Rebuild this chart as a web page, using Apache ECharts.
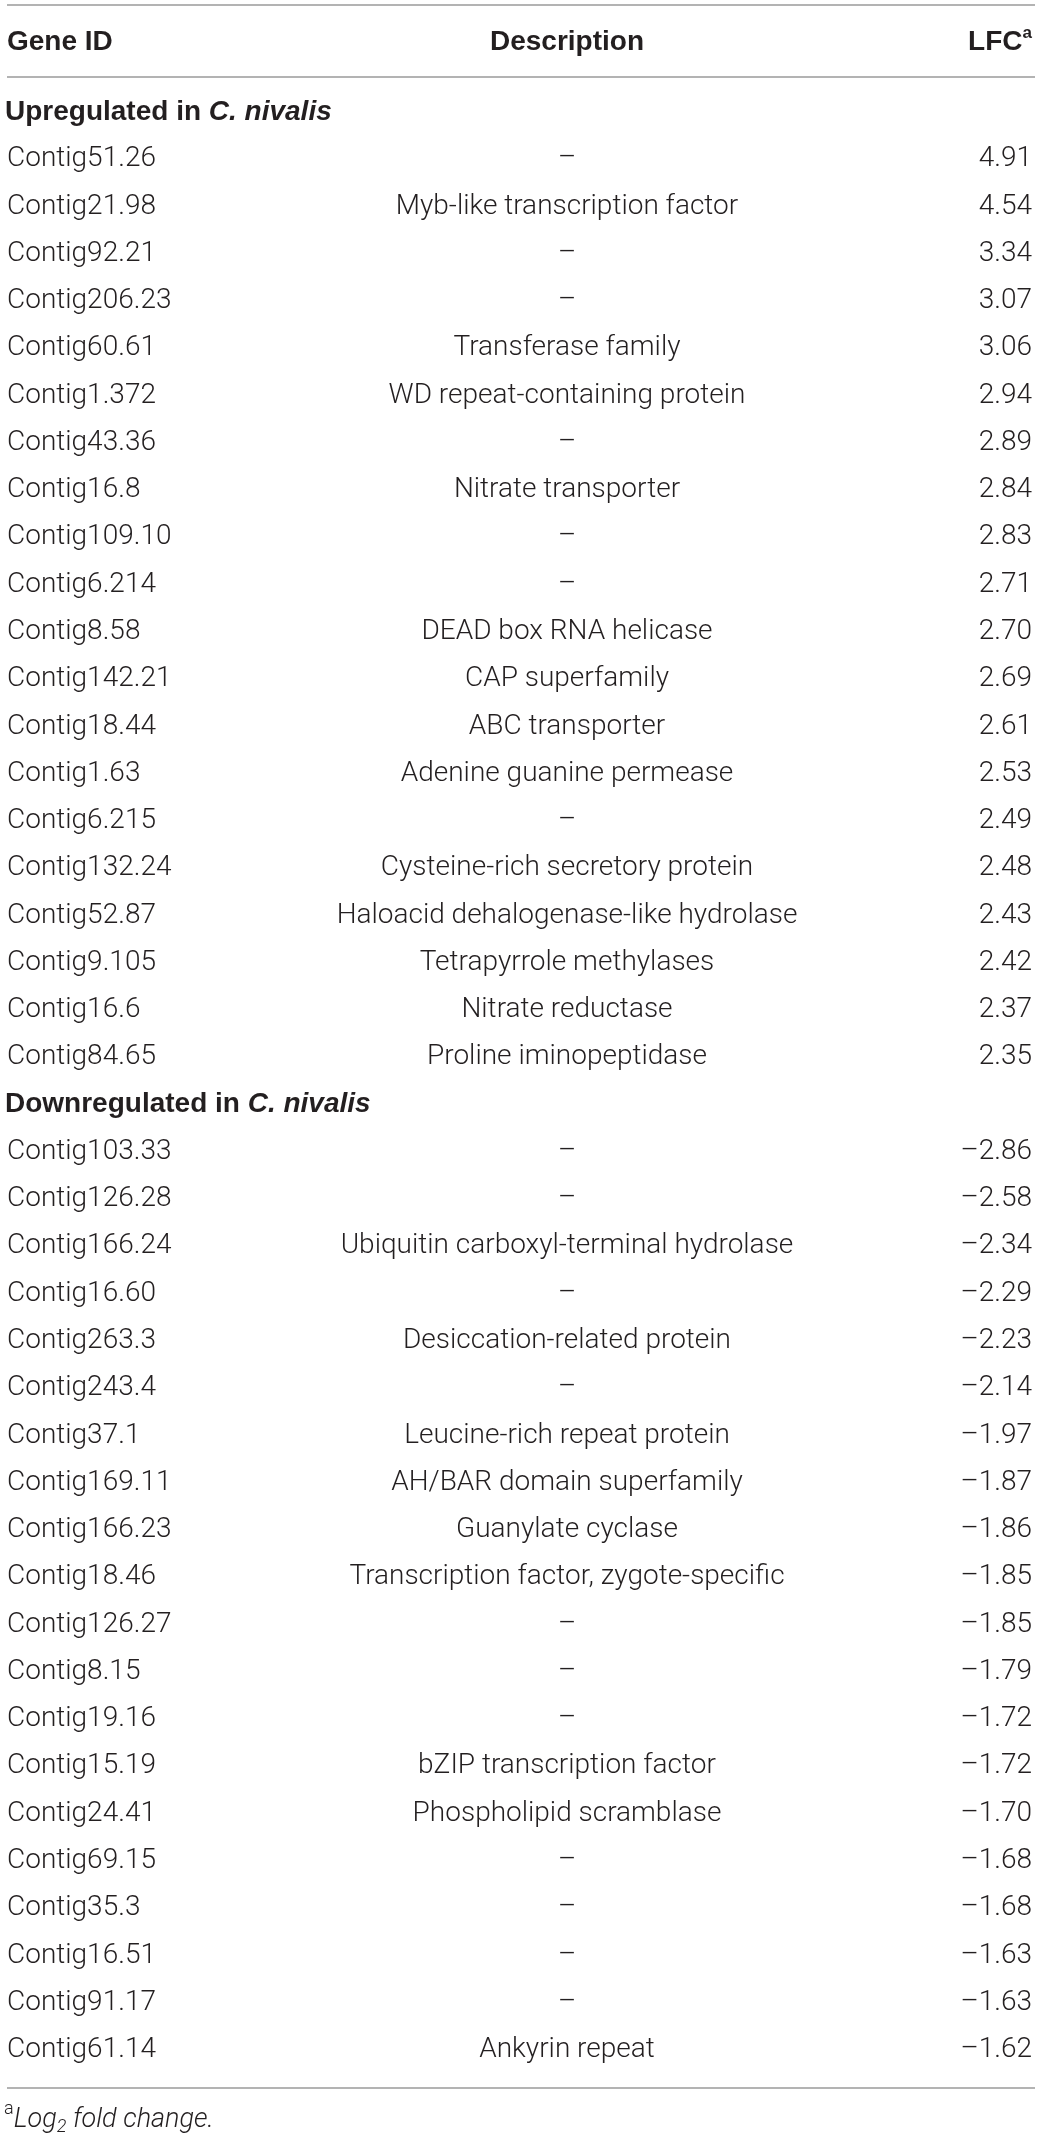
<!DOCTYPE html>
<html>
<head>
<meta charset="utf-8">
<script src="https://cdn.jsdelivr.net/npm/echarts@6/dist/echarts.min.js"></script>
<style>
  html, body { margin: 0; padding: 0; background: #fff; }
  #main { width: 1041px; height: 2138px; }
</style>
</head>
<body>
<div id="main"></div>
<script>
// column headers and group titles
const headers = ['Gene ID', 'Description', 'LFC'];
const upTitle = ['Upregulated in ', 'C. nivalis'];
const downTitle = ['Downregulated in ', 'C. nivalis'];
const footnote = ['a', 'Log', '2', ' fold change.'];

// upregulated genes
const upIds = ['Contig51.26', 'Contig21.98', 'Contig92.21', 'Contig206.23', 'Contig60.61',
  'Contig1.372', 'Contig43.36', 'Contig16.8', 'Contig109.10', 'Contig6.214',
  'Contig8.58', 'Contig142.21', 'Contig18.44', 'Contig1.63', 'Contig6.215',
  'Contig132.24', 'Contig52.87', 'Contig9.105', 'Contig16.6', 'Contig84.65'];
const upDesc = ['–', 'Myb-like transcription factor', '–', '–', 'Transferase family',
  'WD repeat-containing protein', '–', 'Nitrate transporter', '–', '–',
  'DEAD box RNA helicase', 'CAP superfamily', 'ABC transporter', 'Adenine guanine permease', '–',
  'Cysteine-rich secretory protein', 'Haloacid dehalogenase-like hydrolase', 'Tetrapyrrole methylases',
  'Nitrate reductase', 'Proline iminopeptidase'];
const upLfc = [4.91, 4.54, 3.34, 3.07, 3.06, 2.94, 2.89, 2.84, 2.83, 2.71,
  2.70, 2.69, 2.61, 2.53, 2.49, 2.48, 2.43, 2.42, 2.37, 2.35];

// downregulated genes
const downIds = ['Contig103.33', 'Contig126.28', 'Contig166.24', 'Contig16.60', 'Contig263.3',
  'Contig243.4', 'Contig37.1', 'Contig169.11', 'Contig166.23', 'Contig18.46',
  'Contig126.27', 'Contig8.15', 'Contig19.16', 'Contig15.19', 'Contig24.41',
  'Contig69.15', 'Contig35.3', 'Contig16.51', 'Contig91.17', 'Contig61.14'];
const downDesc = ['–', '–', 'Ubiquitin carboxyl-terminal hydrolase', '–', 'Desiccation-related protein',
  '–', 'Leucine-rich repeat protein', 'AH/BAR domain superfamily', 'Guanylate cyclase',
  'Transcription factor, zygote-specific', '–', '–', '–', 'bZIP transcription factor',
  'Phospholipid scramblase', '–', '–', '–', '–', 'Ankyrin repeat'];
const downLfc = [-2.86, -2.58, -2.34, -2.29, -2.23, -2.14, -1.97, -1.87, -1.86, -1.85,
  -1.85, -1.79, -1.72, -1.72, -1.70, -1.68, -1.68, -1.63, -1.63, -1.62];

// layout (pixels)
const W = 1041, H = 2138;
const ROW0 = 112, PITCH = 47.27;
const COL_ID = 7, COL_DESC = 567, COL_LFC = 1032;
const RULE_L = 7, RULE_R = 1035;
const HEAD_Y = 42, NOTE_Y = 2120;
const RULES_Y = [5, 77, 2088];
const INK = '#231f20';
const BODY = 'Roboto';
const BOLD = 'Liberation Sans';

const rowOf = (px) => (px - ROW0) / PITCH;
const fmt = (v) => v.toFixed(2).replace('-', '–');

// one list of table items, rows counted from the first group title
const items = [];
RULES_Y.forEach((px) => items.push({ kind: 'rule', row: rowOf(px) }));
items.push({ kind: 'header', row: rowOf(HEAD_Y) });
let r = 0;
items.push({ kind: 'section', row: r++, title: upTitle });
upIds.forEach((id, i) => items.push({ kind: 'gene', row: r++, id, desc: upDesc[i], lfc: upLfc[i] }));
items.push({ kind: 'section', row: r++, title: downTitle });
downIds.forEach((id, i) => items.push({ kind: 'gene', row: r++, id, desc: downDesc[i], lfc: downLfc[i] }));
items.push({ kind: 'note', row: rowOf(NOTE_Y) });

function txt(x, y, text, align, extra) {
  return {
    type: 'text', x, y,
    style: Object.assign({
      text, fill: INK, fontFamily: BODY, fontSize: 28, fontWeight: 300,
      align, verticalAlign: 'middle'
    }, extra || {})
  };
}

function renderItem(params, api) {
  const it = items[params.dataIndex];
  const y = api.coord([0, it.row])[1];
  const xs = (v) => api.coord([v, it.row])[0];
  const boldStyle = { fontFamily: BOLD, fontWeight: 'bold', fontSize: 28 };
  if (it.kind === 'rule') {
    return {
      type: 'line',
      shape: { x1: xs(RULE_L), y1: y, x2: xs(RULE_R), y2: y },
      style: { stroke: '#9a9a9a', lineWidth: 1.6 }
    };
  }
  if (it.kind === 'header') {
    return {
      type: 'group',
      children: [
        txt(xs(COL_ID), y, headers[0], 'left', boldStyle),
        txt(xs(COL_DESC), y, headers[1], 'center', boldStyle),
        txt(xs(COL_LFC), y, headers[2] + '{sup|a}', 'right', Object.assign({
          lineHeight: 34,
          rich: { sup: { fontFamily: BOLD, fontWeight: 'bold', fontSize: 17, lineHeight: 18, verticalAlign: 'top', fill: INK } }
        }, boldStyle))
      ]
    };
  }
  if (it.kind === 'section') {
    return txt(xs(COL_ID) - 2, y, it.title[0] + '{i|' + it.title[1] + '}', 'left', Object.assign({
      rich: { i: { fontFamily: BOLD, fontWeight: 'bold', fontStyle: 'italic', fontSize: 28, fill: INK } }
    }, boldStyle));
  }
  if (it.kind === 'note') {
    return txt(xs(COL_ID) - 3, y,
      '{sup|' + footnote[0] + '}{it|' + footnote[1] + '}{sub|' + footnote[2] + '}{it|' + footnote[3] + '}', 'left', {
        lineHeight: 40,
        rich: {
          sup: { fontFamily: BODY, fontWeight: 300, fontSize: 18, lineHeight: 20, verticalAlign: 'top', fill: INK },
          it: { fontFamily: BODY, fontWeight: 300, fontStyle: 'italic', fontSize: 27, lineHeight: 40, fill: INK },
          sub: { fontFamily: BODY, fontWeight: 300, fontStyle: 'italic', fontSize: 18, lineHeight: 20, verticalAlign: 'bottom', fill: INK, padding: [0, 0, 4, 0] }
        }
      });
  }
  return {
    type: 'group',
    children: [
      txt(xs(COL_ID), y, it.id, 'left'),
      txt(xs(COL_DESC), y, it.desc, 'center'),
      txt(xs(COL_LFC), y, fmt(it.lfc), 'right')
    ]
  };
}

const chart = echarts.init(document.getElementById('main'), null, { renderer: 'canvas' });
chart.setOption({
  backgroundColor: '#ffffff',
  animation: false,
  grid: { left: 0, right: 0, top: 0, bottom: 0 },
  xAxis: { type: 'value', min: 0, max: W, show: false },
  yAxis: { type: 'value', inverse: true, min: rowOf(0), max: rowOf(H), show: false },
  series: [{
    type: 'custom',
    renderItem,
    clip: false,
    silent: true,
    data: items.map((it) => [0, it.row])
  }]
});
</script>
</body>
</html>
